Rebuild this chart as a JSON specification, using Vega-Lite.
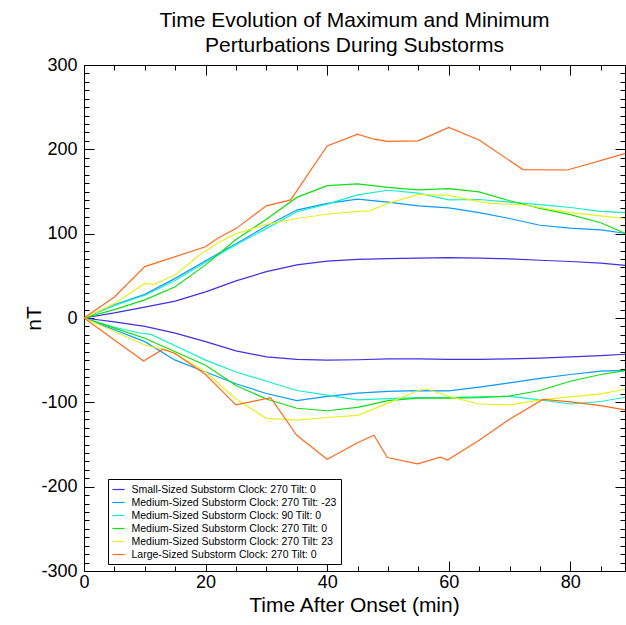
{
  "$schema": "https://vega.github.io/schema/vega-lite/v6.json",
  "width": 541,
  "height": 506,
  "autosize": {"type": "none"},
  "padding": {"left": 84, "top": 65, "right": 1, "bottom": 54},
  "background": "white",
  "title": {
    "text": ["Time Evolution of Maximum and Minimum", "Perturbations During Substorms"],
    "fontSize": 21, "font": "Liberation Sans", "fontWeight": "normal", "color": "black",
    "anchor": "middle", "lineHeight": 25, "baseline": "bottom", "offset": 10, "dy": 31
  },
  "config": {
    "view": {"stroke": null},
    "axis": {"grid": false, "domainColor": "black", "tickColor": "black", "labelColor": "black", "titleColor": "black",
      "labelFont": "Liberation Sans", "titleFont": "Liberation Sans", "labelFontSize": 18, "titleFontSize": 21, "titleFontWeight": "normal", "domainWidth": 1, "tickWidth": 1}
  },
  "data": {"values": [
    {"s":"Small-Sized Substorm Clock: 270 Tilt: 0","k":"max","t":0,"v":0},
    {"s":"Small-Sized Substorm Clock: 270 Tilt: 0","k":"max","t":5,"v":6},
    {"s":"Small-Sized Substorm Clock: 270 Tilt: 0","k":"max","t":10,"v":13},
    {"s":"Small-Sized Substorm Clock: 270 Tilt: 0","k":"max","t":15,"v":20},
    {"s":"Small-Sized Substorm Clock: 270 Tilt: 0","k":"max","t":20,"v":31},
    {"s":"Small-Sized Substorm Clock: 270 Tilt: 0","k":"max","t":25,"v":44},
    {"s":"Small-Sized Substorm Clock: 270 Tilt: 0","k":"max","t":30,"v":55},
    {"s":"Small-Sized Substorm Clock: 270 Tilt: 0","k":"max","t":35,"v":63},
    {"s":"Small-Sized Substorm Clock: 270 Tilt: 0","k":"max","t":40,"v":67.5},
    {"s":"Small-Sized Substorm Clock: 270 Tilt: 0","k":"max","t":45,"v":69.5},
    {"s":"Small-Sized Substorm Clock: 270 Tilt: 0","k":"max","t":50,"v":70.5},
    {"s":"Small-Sized Substorm Clock: 270 Tilt: 0","k":"max","t":55,"v":71},
    {"s":"Small-Sized Substorm Clock: 270 Tilt: 0","k":"max","t":60,"v":71.5},
    {"s":"Small-Sized Substorm Clock: 270 Tilt: 0","k":"max","t":65,"v":71},
    {"s":"Small-Sized Substorm Clock: 270 Tilt: 0","k":"max","t":70,"v":70},
    {"s":"Small-Sized Substorm Clock: 270 Tilt: 0","k":"max","t":75,"v":68.5},
    {"s":"Small-Sized Substorm Clock: 270 Tilt: 0","k":"max","t":80,"v":67},
    {"s":"Small-Sized Substorm Clock: 270 Tilt: 0","k":"max","t":85,"v":65},
    {"s":"Small-Sized Substorm Clock: 270 Tilt: 0","k":"max","t":89,"v":62.5},
    {"s":"Small-Sized Substorm Clock: 270 Tilt: 0","k":"min","t":0,"v":0},
    {"s":"Small-Sized Substorm Clock: 270 Tilt: 0","k":"min","t":5,"v":-4.5},
    {"s":"Small-Sized Substorm Clock: 270 Tilt: 0","k":"min","t":10,"v":-10},
    {"s":"Small-Sized Substorm Clock: 270 Tilt: 0","k":"min","t":15,"v":-18},
    {"s":"Small-Sized Substorm Clock: 270 Tilt: 0","k":"min","t":20,"v":-28},
    {"s":"Small-Sized Substorm Clock: 270 Tilt: 0","k":"min","t":25,"v":-39},
    {"s":"Small-Sized Substorm Clock: 270 Tilt: 0","k":"min","t":30,"v":-46},
    {"s":"Small-Sized Substorm Clock: 270 Tilt: 0","k":"min","t":35,"v":-49},
    {"s":"Small-Sized Substorm Clock: 270 Tilt: 0","k":"min","t":40,"v":-50},
    {"s":"Small-Sized Substorm Clock: 270 Tilt: 0","k":"min","t":45,"v":-49.5},
    {"s":"Small-Sized Substorm Clock: 270 Tilt: 0","k":"min","t":50,"v":-48.5},
    {"s":"Small-Sized Substorm Clock: 270 Tilt: 0","k":"min","t":55,"v":-48.5},
    {"s":"Small-Sized Substorm Clock: 270 Tilt: 0","k":"min","t":60,"v":-49},
    {"s":"Small-Sized Substorm Clock: 270 Tilt: 0","k":"min","t":65,"v":-49},
    {"s":"Small-Sized Substorm Clock: 270 Tilt: 0","k":"min","t":70,"v":-48.5},
    {"s":"Small-Sized Substorm Clock: 270 Tilt: 0","k":"min","t":75,"v":-47.5},
    {"s":"Small-Sized Substorm Clock: 270 Tilt: 0","k":"min","t":80,"v":-46},
    {"s":"Small-Sized Substorm Clock: 270 Tilt: 0","k":"min","t":85,"v":-44.5},
    {"s":"Small-Sized Substorm Clock: 270 Tilt: 0","k":"min","t":89,"v":-43},

    {"s":"Medium-Sized Substorm Clock: 270 Tilt: -23","k":"max","t":0,"v":0},
    {"s":"Medium-Sized Substorm Clock: 270 Tilt: -23","k":"max","t":5,"v":15.5},
    {"s":"Medium-Sized Substorm Clock: 270 Tilt: -23","k":"max","t":10,"v":28},
    {"s":"Medium-Sized Substorm Clock: 270 Tilt: -23","k":"max","t":15,"v":47},
    {"s":"Medium-Sized Substorm Clock: 270 Tilt: -23","k":"max","t":20,"v":68},
    {"s":"Medium-Sized Substorm Clock: 270 Tilt: -23","k":"max","t":25,"v":88},
    {"s":"Medium-Sized Substorm Clock: 270 Tilt: -23","k":"max","t":30,"v":109},
    {"s":"Medium-Sized Substorm Clock: 270 Tilt: -23","k":"max","t":35,"v":128},
    {"s":"Medium-Sized Substorm Clock: 270 Tilt: -23","k":"max","t":40,"v":136},
    {"s":"Medium-Sized Substorm Clock: 270 Tilt: -23","k":"max","t":45,"v":141},
    {"s":"Medium-Sized Substorm Clock: 270 Tilt: -23","k":"max","t":50,"v":137.5},
    {"s":"Medium-Sized Substorm Clock: 270 Tilt: -23","k":"max","t":55,"v":133},
    {"s":"Medium-Sized Substorm Clock: 270 Tilt: -23","k":"max","t":60,"v":130.5},
    {"s":"Medium-Sized Substorm Clock: 270 Tilt: -23","k":"max","t":65,"v":125},
    {"s":"Medium-Sized Substorm Clock: 270 Tilt: -23","k":"max","t":70,"v":118},
    {"s":"Medium-Sized Substorm Clock: 270 Tilt: -23","k":"max","t":75,"v":110},
    {"s":"Medium-Sized Substorm Clock: 270 Tilt: -23","k":"max","t":80,"v":106.5},
    {"s":"Medium-Sized Substorm Clock: 270 Tilt: -23","k":"max","t":85,"v":104.5},
    {"s":"Medium-Sized Substorm Clock: 270 Tilt: -23","k":"max","t":89,"v":100.5},
    {"s":"Medium-Sized Substorm Clock: 270 Tilt: -23","k":"min","t":0,"v":0},
    {"s":"Medium-Sized Substorm Clock: 270 Tilt: -23","k":"min","t":5,"v":-14},
    {"s":"Medium-Sized Substorm Clock: 270 Tilt: -23","k":"min","t":10,"v":-28},
    {"s":"Medium-Sized Substorm Clock: 270 Tilt: -23","k":"min","t":15,"v":-50},
    {"s":"Medium-Sized Substorm Clock: 270 Tilt: -23","k":"min","t":20,"v":-64},
    {"s":"Medium-Sized Substorm Clock: 270 Tilt: -23","k":"min","t":25,"v":-78},
    {"s":"Medium-Sized Substorm Clock: 270 Tilt: -23","k":"min","t":30,"v":-89.5},
    {"s":"Medium-Sized Substorm Clock: 270 Tilt: -23","k":"min","t":35,"v":-98},
    {"s":"Medium-Sized Substorm Clock: 270 Tilt: -23","k":"min","t":40,"v":-93},
    {"s":"Medium-Sized Substorm Clock: 270 Tilt: -23","k":"min","t":45,"v":-89},
    {"s":"Medium-Sized Substorm Clock: 270 Tilt: -23","k":"min","t":50,"v":-87},
    {"s":"Medium-Sized Substorm Clock: 270 Tilt: -23","k":"min","t":55,"v":-86},
    {"s":"Medium-Sized Substorm Clock: 270 Tilt: -23","k":"min","t":60,"v":-86.5},
    {"s":"Medium-Sized Substorm Clock: 270 Tilt: -23","k":"min","t":65,"v":-82},
    {"s":"Medium-Sized Substorm Clock: 270 Tilt: -23","k":"min","t":70,"v":-77},
    {"s":"Medium-Sized Substorm Clock: 270 Tilt: -23","k":"min","t":75,"v":-71.5},
    {"s":"Medium-Sized Substorm Clock: 270 Tilt: -23","k":"min","t":80,"v":-67},
    {"s":"Medium-Sized Substorm Clock: 270 Tilt: -23","k":"min","t":85,"v":-63},
    {"s":"Medium-Sized Substorm Clock: 270 Tilt: -23","k":"min","t":89,"v":-62},

    {"s":"Medium-Sized Substorm Clock: 90 Tilt: 0","k":"max","t":0,"v":0},
    {"s":"Medium-Sized Substorm Clock: 90 Tilt: 0","k":"max","t":5,"v":15},
    {"s":"Medium-Sized Substorm Clock: 90 Tilt: 0","k":"max","t":10,"v":27},
    {"s":"Medium-Sized Substorm Clock: 90 Tilt: 0","k":"max","t":15,"v":44.5},
    {"s":"Medium-Sized Substorm Clock: 90 Tilt: 0","k":"max","t":20,"v":66},
    {"s":"Medium-Sized Substorm Clock: 90 Tilt: 0","k":"max","t":25,"v":87},
    {"s":"Medium-Sized Substorm Clock: 90 Tilt: 0","k":"max","t":30,"v":106},
    {"s":"Medium-Sized Substorm Clock: 90 Tilt: 0","k":"max","t":35,"v":126},
    {"s":"Medium-Sized Substorm Clock: 90 Tilt: 0","k":"max","t":40,"v":135},
    {"s":"Medium-Sized Substorm Clock: 90 Tilt: 0","k":"max","t":45,"v":146},
    {"s":"Medium-Sized Substorm Clock: 90 Tilt: 0","k":"max","t":50,"v":151.5},
    {"s":"Medium-Sized Substorm Clock: 90 Tilt: 0","k":"max","t":55,"v":148},
    {"s":"Medium-Sized Substorm Clock: 90 Tilt: 0","k":"max","t":60,"v":140},
    {"s":"Medium-Sized Substorm Clock: 90 Tilt: 0","k":"max","t":65,"v":140.5},
    {"s":"Medium-Sized Substorm Clock: 90 Tilt: 0","k":"max","t":70,"v":137.5},
    {"s":"Medium-Sized Substorm Clock: 90 Tilt: 0","k":"max","t":75,"v":134.5},
    {"s":"Medium-Sized Substorm Clock: 90 Tilt: 0","k":"max","t":80,"v":131},
    {"s":"Medium-Sized Substorm Clock: 90 Tilt: 0","k":"max","t":85,"v":126.5},
    {"s":"Medium-Sized Substorm Clock: 90 Tilt: 0","k":"max","t":89,"v":125},
    {"s":"Medium-Sized Substorm Clock: 90 Tilt: 0","k":"min","t":0,"v":0},
    {"s":"Medium-Sized Substorm Clock: 90 Tilt: 0","k":"min","t":5,"v":-11},
    {"s":"Medium-Sized Substorm Clock: 90 Tilt: 0","k":"min","t":9,"v":-17.5},
    {"s":"Medium-Sized Substorm Clock: 90 Tilt: 0","k":"min","t":11,"v":-19.5},
    {"s":"Medium-Sized Substorm Clock: 90 Tilt: 0","k":"min","t":15,"v":-33},
    {"s":"Medium-Sized Substorm Clock: 90 Tilt: 0","k":"min","t":20,"v":-50},
    {"s":"Medium-Sized Substorm Clock: 90 Tilt: 0","k":"min","t":25,"v":-64},
    {"s":"Medium-Sized Substorm Clock: 90 Tilt: 0","k":"min","t":30,"v":-75},
    {"s":"Medium-Sized Substorm Clock: 90 Tilt: 0","k":"min","t":35,"v":-86},
    {"s":"Medium-Sized Substorm Clock: 90 Tilt: 0","k":"min","t":40,"v":-91.5},
    {"s":"Medium-Sized Substorm Clock: 90 Tilt: 0","k":"min","t":45,"v":-97},
    {"s":"Medium-Sized Substorm Clock: 90 Tilt: 0","k":"min","t":50,"v":-95.5},
    {"s":"Medium-Sized Substorm Clock: 90 Tilt: 0","k":"min","t":55,"v":-94.5},
    {"s":"Medium-Sized Substorm Clock: 90 Tilt: 0","k":"min","t":60,"v":-94.5},
    {"s":"Medium-Sized Substorm Clock: 90 Tilt: 0","k":"min","t":65,"v":-93.5},
    {"s":"Medium-Sized Substorm Clock: 90 Tilt: 0","k":"min","t":70,"v":-93},
    {"s":"Medium-Sized Substorm Clock: 90 Tilt: 0","k":"min","t":75,"v":-97},
    {"s":"Medium-Sized Substorm Clock: 90 Tilt: 0","k":"min","t":80,"v":-102},
    {"s":"Medium-Sized Substorm Clock: 90 Tilt: 0","k":"min","t":85,"v":-99},
    {"s":"Medium-Sized Substorm Clock: 90 Tilt: 0","k":"min","t":89,"v":-94},

    {"s":"Medium-Sized Substorm Clock: 270 Tilt: 0","k":"max","t":0,"v":0},
    {"s":"Medium-Sized Substorm Clock: 270 Tilt: 0","k":"max","t":5,"v":10},
    {"s":"Medium-Sized Substorm Clock: 270 Tilt: 0","k":"max","t":10,"v":21.5},
    {"s":"Medium-Sized Substorm Clock: 270 Tilt: 0","k":"max","t":15,"v":37},
    {"s":"Medium-Sized Substorm Clock: 270 Tilt: 0","k":"max","t":20,"v":63},
    {"s":"Medium-Sized Substorm Clock: 270 Tilt: 0","k":"max","t":25,"v":93},
    {"s":"Medium-Sized Substorm Clock: 270 Tilt: 0","k":"max","t":30,"v":117},
    {"s":"Medium-Sized Substorm Clock: 270 Tilt: 0","k":"max","t":35,"v":143},
    {"s":"Medium-Sized Substorm Clock: 270 Tilt: 0","k":"max","t":40,"v":157},
    {"s":"Medium-Sized Substorm Clock: 270 Tilt: 0","k":"max","t":45,"v":159},
    {"s":"Medium-Sized Substorm Clock: 270 Tilt: 0","k":"max","t":50,"v":155},
    {"s":"Medium-Sized Substorm Clock: 270 Tilt: 0","k":"max","t":55,"v":152},
    {"s":"Medium-Sized Substorm Clock: 270 Tilt: 0","k":"max","t":60,"v":153.5},
    {"s":"Medium-Sized Substorm Clock: 270 Tilt: 0","k":"max","t":65,"v":149.5},
    {"s":"Medium-Sized Substorm Clock: 270 Tilt: 0","k":"max","t":70,"v":139},
    {"s":"Medium-Sized Substorm Clock: 270 Tilt: 0","k":"max","t":75,"v":130},
    {"s":"Medium-Sized Substorm Clock: 270 Tilt: 0","k":"max","t":80,"v":122.5},
    {"s":"Medium-Sized Substorm Clock: 270 Tilt: 0","k":"max","t":85,"v":113},
    {"s":"Medium-Sized Substorm Clock: 270 Tilt: 0","k":"max","t":89,"v":100.5},
    {"s":"Medium-Sized Substorm Clock: 270 Tilt: 0","k":"min","t":0,"v":0},
    {"s":"Medium-Sized Substorm Clock: 270 Tilt: 0","k":"min","t":5,"v":-12},
    {"s":"Medium-Sized Substorm Clock: 270 Tilt: 0","k":"min","t":10,"v":-24},
    {"s":"Medium-Sized Substorm Clock: 270 Tilt: 0","k":"min","t":15,"v":-40},
    {"s":"Medium-Sized Substorm Clock: 270 Tilt: 0","k":"min","t":20,"v":-56},
    {"s":"Medium-Sized Substorm Clock: 270 Tilt: 0","k":"min","t":25,"v":-80},
    {"s":"Medium-Sized Substorm Clock: 270 Tilt: 0","k":"min","t":30,"v":-96},
    {"s":"Medium-Sized Substorm Clock: 270 Tilt: 0","k":"min","t":35,"v":-107},
    {"s":"Medium-Sized Substorm Clock: 270 Tilt: 0","k":"min","t":40,"v":-110},
    {"s":"Medium-Sized Substorm Clock: 270 Tilt: 0","k":"min","t":45,"v":-106},
    {"s":"Medium-Sized Substorm Clock: 270 Tilt: 0","k":"min","t":50,"v":-98},
    {"s":"Medium-Sized Substorm Clock: 270 Tilt: 0","k":"min","t":55,"v":-95},
    {"s":"Medium-Sized Substorm Clock: 270 Tilt: 0","k":"min","t":60,"v":-95},
    {"s":"Medium-Sized Substorm Clock: 270 Tilt: 0","k":"min","t":65,"v":-94.5},
    {"s":"Medium-Sized Substorm Clock: 270 Tilt: 0","k":"min","t":70,"v":-92.5},
    {"s":"Medium-Sized Substorm Clock: 270 Tilt: 0","k":"min","t":75,"v":-86},
    {"s":"Medium-Sized Substorm Clock: 270 Tilt: 0","k":"min","t":80,"v":-75},
    {"s":"Medium-Sized Substorm Clock: 270 Tilt: 0","k":"min","t":85,"v":-67},
    {"s":"Medium-Sized Substorm Clock: 270 Tilt: 0","k":"min","t":89,"v":-62.5},

    {"s":"Medium-Sized Substorm Clock: 270 Tilt: 23","k":"max","t":0,"v":0},
    {"s":"Medium-Sized Substorm Clock: 270 Tilt: 23","k":"max","t":5,"v":17},
    {"s":"Medium-Sized Substorm Clock: 270 Tilt: 23","k":"max","t":10,"v":41},
    {"s":"Medium-Sized Substorm Clock: 270 Tilt: 23","k":"max","t":11.5,"v":40},
    {"s":"Medium-Sized Substorm Clock: 270 Tilt: 23","k":"max","t":15,"v":51},
    {"s":"Medium-Sized Substorm Clock: 270 Tilt: 23","k":"max","t":18.7,"v":73},
    {"s":"Medium-Sized Substorm Clock: 270 Tilt: 23","k":"max","t":22,"v":89},
    {"s":"Medium-Sized Substorm Clock: 270 Tilt: 23","k":"max","t":25,"v":100},
    {"s":"Medium-Sized Substorm Clock: 270 Tilt: 23","k":"max","t":30,"v":111},
    {"s":"Medium-Sized Substorm Clock: 270 Tilt: 23","k":"max","t":35,"v":118},
    {"s":"Medium-Sized Substorm Clock: 270 Tilt: 23","k":"max","t":40,"v":123},
    {"s":"Medium-Sized Substorm Clock: 270 Tilt: 23","k":"max","t":45,"v":126.5},
    {"s":"Medium-Sized Substorm Clock: 270 Tilt: 23","k":"max","t":47,"v":127},
    {"s":"Medium-Sized Substorm Clock: 270 Tilt: 23","k":"max","t":50,"v":136},
    {"s":"Medium-Sized Substorm Clock: 270 Tilt: 23","k":"max","t":55,"v":146.5},
    {"s":"Medium-Sized Substorm Clock: 270 Tilt: 23","k":"max","t":60,"v":145.5},
    {"s":"Medium-Sized Substorm Clock: 270 Tilt: 23","k":"max","t":65,"v":138},
    {"s":"Medium-Sized Substorm Clock: 270 Tilt: 23","k":"max","t":67,"v":136},
    {"s":"Medium-Sized Substorm Clock: 270 Tilt: 23","k":"max","t":72.5,"v":134},
    {"s":"Medium-Sized Substorm Clock: 270 Tilt: 23","k":"max","t":80,"v":125},
    {"s":"Medium-Sized Substorm Clock: 270 Tilt: 23","k":"max","t":85,"v":121},
    {"s":"Medium-Sized Substorm Clock: 270 Tilt: 23","k":"max","t":89,"v":118},
    {"s":"Medium-Sized Substorm Clock: 270 Tilt: 23","k":"min","t":0,"v":0},
    {"s":"Medium-Sized Substorm Clock: 270 Tilt: 23","k":"min","t":5,"v":-16},
    {"s":"Medium-Sized Substorm Clock: 270 Tilt: 23","k":"min","t":10,"v":-32},
    {"s":"Medium-Sized Substorm Clock: 270 Tilt: 23","k":"min","t":13.5,"v":-38},
    {"s":"Medium-Sized Substorm Clock: 270 Tilt: 23","k":"min","t":15,"v":-42},
    {"s":"Medium-Sized Substorm Clock: 270 Tilt: 23","k":"min","t":20,"v":-64},
    {"s":"Medium-Sized Substorm Clock: 270 Tilt: 23","k":"min","t":25,"v":-96},
    {"s":"Medium-Sized Substorm Clock: 270 Tilt: 23","k":"min","t":30,"v":-119},
    {"s":"Medium-Sized Substorm Clock: 270 Tilt: 23","k":"min","t":35,"v":-121},
    {"s":"Medium-Sized Substorm Clock: 270 Tilt: 23","k":"min","t":40,"v":-118},
    {"s":"Medium-Sized Substorm Clock: 270 Tilt: 23","k":"min","t":45,"v":-115.5},
    {"s":"Medium-Sized Substorm Clock: 270 Tilt: 23","k":"min","t":50,"v":-101},
    {"s":"Medium-Sized Substorm Clock: 270 Tilt: 23","k":"min","t":55,"v":-86},
    {"s":"Medium-Sized Substorm Clock: 270 Tilt: 23","k":"min","t":56.5,"v":-84.5},
    {"s":"Medium-Sized Substorm Clock: 270 Tilt: 23","k":"min","t":60,"v":-93},
    {"s":"Medium-Sized Substorm Clock: 270 Tilt: 23","k":"min","t":65,"v":-102},
    {"s":"Medium-Sized Substorm Clock: 270 Tilt: 23","k":"min","t":70,"v":-103},
    {"s":"Medium-Sized Substorm Clock: 270 Tilt: 23","k":"min","t":75.7,"v":-96.5},
    {"s":"Medium-Sized Substorm Clock: 270 Tilt: 23","k":"min","t":80,"v":-93.5},
    {"s":"Medium-Sized Substorm Clock: 270 Tilt: 23","k":"min","t":85,"v":-90},
    {"s":"Medium-Sized Substorm Clock: 270 Tilt: 23","k":"min","t":89,"v":-84.5},

    {"s":"Large-Sized Substorm Clock: 270 Tilt: 0","k":"max","t":0,"v":0},
    {"s":"Large-Sized Substorm Clock: 270 Tilt: 0","k":"max","t":5,"v":25},
    {"s":"Large-Sized Substorm Clock: 270 Tilt: 0","k":"max","t":10,"v":61},
    {"s":"Large-Sized Substorm Clock: 270 Tilt: 0","k":"max","t":20,"v":84.5},
    {"s":"Large-Sized Substorm Clock: 270 Tilt: 0","k":"max","t":22,"v":94.5},
    {"s":"Large-Sized Substorm Clock: 270 Tilt: 0","k":"max","t":25,"v":106},
    {"s":"Large-Sized Substorm Clock: 270 Tilt: 0","k":"max","t":30,"v":133},
    {"s":"Large-Sized Substorm Clock: 270 Tilt: 0","k":"max","t":34,"v":140},
    {"s":"Large-Sized Substorm Clock: 270 Tilt: 0","k":"max","t":40,"v":204},
    {"s":"Large-Sized Substorm Clock: 270 Tilt: 0","k":"max","t":45,"v":218},
    {"s":"Large-Sized Substorm Clock: 270 Tilt: 0","k":"max","t":47.7,"v":212},
    {"s":"Large-Sized Substorm Clock: 270 Tilt: 0","k":"max","t":50,"v":209.5},
    {"s":"Large-Sized Substorm Clock: 270 Tilt: 0","k":"max","t":55,"v":210},
    {"s":"Large-Sized Substorm Clock: 270 Tilt: 0","k":"max","t":60,"v":226},
    {"s":"Large-Sized Substorm Clock: 270 Tilt: 0","k":"max","t":65,"v":211},
    {"s":"Large-Sized Substorm Clock: 270 Tilt: 0","k":"max","t":72.2,"v":176},
    {"s":"Large-Sized Substorm Clock: 270 Tilt: 0","k":"max","t":79.5,"v":175.5},
    {"s":"Large-Sized Substorm Clock: 270 Tilt: 0","k":"max","t":89,"v":195},
    {"s":"Large-Sized Substorm Clock: 270 Tilt: 0","k":"min","t":0,"v":0},
    {"s":"Large-Sized Substorm Clock: 270 Tilt: 0","k":"min","t":5,"v":-26},
    {"s":"Large-Sized Substorm Clock: 270 Tilt: 0","k":"min","t":9.8,"v":-51},
    {"s":"Large-Sized Substorm Clock: 270 Tilt: 0","k":"min","t":13,"v":-37},
    {"s":"Large-Sized Substorm Clock: 270 Tilt: 0","k":"min","t":15,"v":-42},
    {"s":"Large-Sized Substorm Clock: 270 Tilt: 0","k":"min","t":20,"v":-67},
    {"s":"Large-Sized Substorm Clock: 270 Tilt: 0","k":"min","t":25,"v":-103},
    {"s":"Large-Sized Substorm Clock: 270 Tilt: 0","k":"min","t":30.7,"v":-94.5},
    {"s":"Large-Sized Substorm Clock: 270 Tilt: 0","k":"min","t":35,"v":-139},
    {"s":"Large-Sized Substorm Clock: 270 Tilt: 0","k":"min","t":40,"v":-167.5},
    {"s":"Large-Sized Substorm Clock: 270 Tilt: 0","k":"min","t":45,"v":-148},
    {"s":"Large-Sized Substorm Clock: 270 Tilt: 0","k":"min","t":47.7,"v":-139},
    {"s":"Large-Sized Substorm Clock: 270 Tilt: 0","k":"min","t":49.9,"v":-165.5},
    {"s":"Large-Sized Substorm Clock: 270 Tilt: 0","k":"min","t":54.9,"v":-173},
    {"s":"Large-Sized Substorm Clock: 270 Tilt: 0","k":"min","t":58.6,"v":-165},
    {"s":"Large-Sized Substorm Clock: 270 Tilt: 0","k":"min","t":59.8,"v":-168.5},
    {"s":"Large-Sized Substorm Clock: 270 Tilt: 0","k":"min","t":65,"v":-145},
    {"s":"Large-Sized Substorm Clock: 270 Tilt: 0","k":"min","t":70,"v":-120},
    {"s":"Large-Sized Substorm Clock: 270 Tilt: 0","k":"min","t":75.5,"v":-96.5},
    {"s":"Large-Sized Substorm Clock: 270 Tilt: 0","k":"min","t":80,"v":-99.5},
    {"s":"Large-Sized Substorm Clock: 270 Tilt: 0","k":"min","t":85,"v":-104},
    {"s":"Large-Sized Substorm Clock: 270 Tilt: 0","k":"min","t":89,"v":-109}
  ]},
  "resolve": {"axis": {"x": "independent", "y": "independent"}},
  "layer": [
    {
      "mark": {"type": "line", "strokeWidth": 1.2},
      "encoding": {
        "x": {"field": "t", "type": "quantitative", "scale": {"domain": [0, 89], "nice": false, "zero": false},
          "axis": {"orient": "bottom", "values": [0, 20, 40, 60, 80], "tickSize": -10, "labelPadding": 12, "title": "Time After Onset (min)", "titleX": 270, "titleY": 40, "titleBaseline": "alphabetic", "titleAlign": "center", "labelFlush": false}},
        "y": {"field": "v", "type": "quantitative", "scale": {"domain": [-300, 300], "nice": false, "zero": false},
          "axis": {"orient": "left", "values": [-300, -200, -100, 0, 100, 200, 300], "labelExpr": "'' + datum.value", "tickSize": -10, "labelPadding": 17, "title": "nT", "titleX": -50, "titleY": 253, "titleAngle": -90, "titleBaseline": "middle", "titleAlign": "center", "labelFlush": false}},
        "color": {"field": "s", "type": "nominal",
          "scale": {"domain": ["Small-Sized Substorm Clock: 270 Tilt: 0", "Medium-Sized Substorm Clock: 270 Tilt: -23", "Medium-Sized Substorm Clock: 90 Tilt: 0", "Medium-Sized Substorm Clock: 270 Tilt: 0", "Medium-Sized Substorm Clock: 270 Tilt: 23", "Large-Sized Substorm Clock: 270 Tilt: 0"],
            "range": ["#4030e4", "#0a9bff", "#12f0c8", "#10e010", "#e6f01e", "#ff6a1e"]},
          "legend": {"title": null, "orient": "none", "legendX": 24, "legendY": 414, "strokeColor": "black", "fillColor": "white", "padding": 3.5,
            "symbolType": "stroke", "symbolSize": 150, "symbolStrokeWidth": 1.2, "labelFontSize": 10.5, "labelFont": "Liberation Sans", "labelColor": "black", "labelLimit": 400, "rowPadding": -0.4, "labelOffset": 6}},
        "detail": {"field": "k", "type": "nominal"}
      }
    },
    {
      "mark": {"type": "point", "opacity": 0},
      "encoding": {
        "x": {"field": "t", "type": "quantitative", "axis": {"orient": "bottom", "values": [5,10,15,25,30,35,45,50,55,65,70,75,85], "tickSize": -5, "labels": false, "title": null, "domain": false}},
        "y": {"field": "v", "type": "quantitative", "axis": {"orient": "left", "values": [-290,-280,-270,-260,-250,-240,-230,-220,-210,-190,-180,-170,-160,-150,-140,-130,-120,-110,-90,-80,-70,-60,-50,-40,-30,-20,-10,10,20,30,40,50,60,70,80,90,110,120,130,140,150,160,170,180,190,210,220,230,240,250,260,270,280,290], "tickSize": -5, "labels": false, "title": null, "domain": false}}
      }
    },
    {
      "mark": {"type": "point", "opacity": 0},
      "encoding": {
        "x": {"field": "t", "type": "quantitative", "axis": {"orient": "top", "values": [0, 20, 40, 60, 80], "tickSize": -10, "labels": false, "title": null}},
        "y": {"field": "v", "type": "quantitative", "axis": {"orient": "right", "values": [-300, -200, -100, 0, 100, 200, 300], "tickSize": -10, "labels": false, "title": null}}
      }
    },
    {
      "mark": {"type": "point", "opacity": 0},
      "encoding": {
        "x": {"field": "t", "type": "quantitative", "axis": {"orient": "top", "values": [5,10,15,25,30,35,45,50,55,65,70,75,85], "tickSize": -5, "labels": false, "title": null, "domain": false}},
        "y": {"field": "v", "type": "quantitative", "axis": {"orient": "right", "values": [-290,-280,-270,-260,-250,-240,-230,-220,-210,-190,-180,-170,-160,-150,-140,-130,-120,-110,-90,-80,-70,-60,-50,-40,-30,-20,-10,10,20,30,40,50,60,70,80,90,110,120,130,140,150,160,170,180,190,210,220,230,240,250,260,270,280,290], "tickSize": -5, "labels": false, "title": null, "domain": false}}
      }
    }
  ]
}
